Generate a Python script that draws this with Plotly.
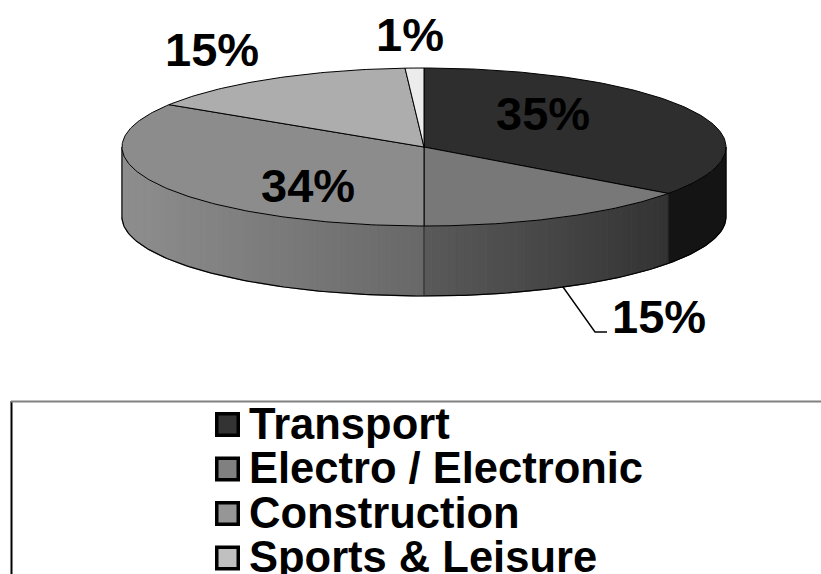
import numpy as np
import plotly.graph_objects as go

categories = ["Transport", "Electro / Electronic", "Construction", "Sports & Leisure", ""]
shares = [35, 15, 34, 15, 1]
share_labels = ["35%", "15%", "34%", "15%", "1%"]
top_colors = ["#2e2e2e", "#787878", "#8c8c8c", "#adadad", "#ececec"]
swatch_colors = ["#333333", "#808080", "#969696", "#c0c0c0"]
label_xy = [(543, 113.5), (659, 316.5), (308, 185.5), (212, 49.5), (410, 34.5)]

CX, CY, RX, RY, DEPTH = 424.0, 147.0, 302.0, 79.0, 70.0
W, H = 821, 574
FONT = "Liberation Sans, Arial, sans-serif"

def px(deg):
    return CX + RX * np.sin(np.radians(deg))

def py(deg):
    return CY - RY * np.cos(np.radians(deg))

def lerp_gray(v0, v1, t):
    g = int(round(v0 + (v1 - v0) * t))
    return f"rgb({g},{g},{g})"

edges = np.concatenate([[0], np.cumsum(shares) * 3.6])
fig = go.Figure()

def poly(xs, ys, fill, line_color=None, width=1):
    fig.add_trace(go.Scatter(x=xs, y=ys, mode="lines", fill="toself", fillcolor=fill,
                             line=dict(color=line_color or fill, width=width),
                             hoverinfo="skip", showlegend=False))

def line(xs, ys, color="#000000", width=1):
    fig.add_trace(go.Scatter(x=xs, y=ys, mode="lines", line=dict(color=color, width=width),
                             hoverinfo="skip", showlegend=False))

a = edges[1]

def wall(start, stop, color_of, step=1.5):
    n = max(int((stop - start) / step), 1)
    steps = np.linspace(start, stop, n + 1)
    for s0, s1 in zip(steps[:-1], steps[1:]):
        t = np.linspace(s0, s1, max(int((s1 - s0) / 1.5), 3))
        xs = np.concatenate([px(t), px(t[::-1])])
        ys = np.concatenate([py(t), py(t[::-1]) + DEPTH])
        col = color_of((s0 + s1) / 2)
        poly(list(xs) + [xs[0]], list(ys) + [ys[0]], col)

wall(90, a, lambda d: "#141414", step=90)
wall(a, 180, lambda d: lerp_gray(0x33, 0x5a, (px(a) - px(d)) / (px(a) - CX)))
wall(180, 270, lambda d: lerp_gray(0x68, 0x8e, (CX - px(d)) / RX))

t = np.linspace(90, 270, 200)
line(px(t), py(t) + DEPTH, width=1.2)
for d in (90, a, 180, 270):
    line([px(d), px(d)], [py(d), py(d) + DEPTH], "#202020" if d in (a, 180) else "#000000")

for i in range(len(shares)):
    t = np.linspace(edges[i], edges[i + 1], max(int(shares[i] * 4), 6))
    xs = [CX] + list(px(t)) + [CX]
    ys = [CY] + list(py(t)) + [CY]
    poly(xs, ys, top_colors[i], "#000000", 1)

line([563, 595, 607], [287, 332, 332], width=1.4)

annotations = []
for txt, (x, y) in zip(share_labels, label_xy):
    annotations.append(dict(x=x, y=y, text=f"<b>{txt}</b>", showarrow=False, xanchor="center",
                            yanchor="middle", font=dict(family=FONT, size=47, color="#000000")))

line([11.5, 11.5], [H + 5, 401], "#000000", 2)
line([11, W + 5], [401.5, 401.5], "#808080", 2.2)

row_y = [424.5, 469, 513.5, 558]
for name, col, y in zip(categories[:4], swatch_colors, row_y):
    fig.add_trace(go.Scatter(x=[227.5], y=[y], mode="markers",
                             marker=dict(symbol="square", size=21.5, color=col,
                                         line=dict(color="#000000", width=3.5)),
                             hoverinfo="skip", showlegend=False))
    annotations.append(dict(x=247, y=y - 1, text=f"<b>{name}</b>", showarrow=False, xanchor="left",
                            yanchor="middle", font=dict(family=FONT, size=43.5, color="#000000")))

fig.update_layout(width=W, height=H,
                  margin=dict(l=0, r=0, t=0, b=0), autosize=False,
                  paper_bgcolor="#ffffff", plot_bgcolor="#ffffff", showlegend=False,
                  annotations=annotations,
                  xaxis=dict(range=[0, W], visible=False, fixedrange=True),
                  yaxis=dict(range=[H, 0], visible=False, fixedrange=True))
fig.write_html("out.html", config={"displayModeBar": False},
               default_width=f"{W}px", default_height=f"{H}px",
               post_script="document.body.style.margin='0';document.body.style.overflow='hidden';")
